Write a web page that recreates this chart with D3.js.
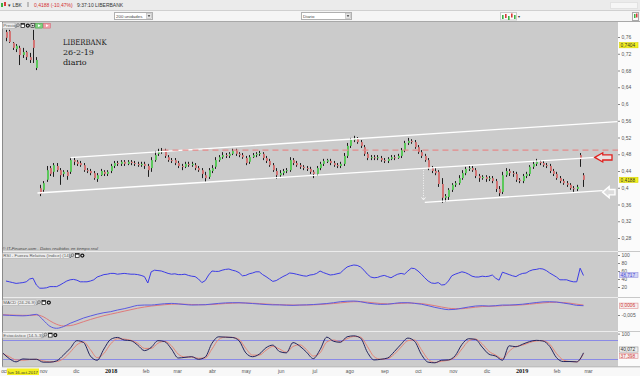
<!DOCTYPE html>
<html>
<head>
<meta charset="utf-8">
<script src="https://d3js.org/d3.v7.min.js"></script>
<style>
  body { margin: 0; background: #fff; overflow: hidden; }
  #chart { position: relative; width: 640px; height: 376px; overflow: hidden; }
  svg { display: block; font-family: 'Liberation Sans', Arial, sans-serif; }
</style>
</head>
<body>
<div id="chart"></div>
<script>
// ---------- data ----------
// one candle every 3 days starting here
const candleStart = new Date(2017, 8, 30);
const open = [.772,.774,.746,.731,.734,.717,.724,.712,.753,.686,
  .399,.395,.419,.447,.438,.452,.442,.433,.438,.438,
  .466,.462,.459,.454,.442,.440,.435,.421,.430,.438,
  .433,.440,.452,.459,.457,.462,.457,.462,.459,.457,
  .454,.457,.452,.447,.466,.481,.485,.488,.473,.466,
  .466,.459,.452,.450,.457,.454,.454,.447,.442,.430,
  .426,.440,.450,.466,.473,.478,.476,.481,.488,.481,
  .478,.471,.462,.473,.478,.481,.481,.471,.464,.454,
  .440,.430,.435,.440,.442,.466,.459,.454,.450,.447,
  .445,.438,.433,.447,.457,.462,.464,.459,.454,.452,
  .457,.476,.500,.514,.516,.509,.497,.481,.471,.473,
  .471,.471,.466,.464,.469,.473,.471,.476,.490,.507,
  .512,.509,.497,.485,.476,.466,.447,.440,.438,.409,
  .376,.378,.395,.407,.411,.423,.435,.445,.447,.442,
  .428,.423,.426,.421,.423,.416,.397,.390,.430,.440,
  .435,.433,.419,.416,.428,.433,.450,.457,.462,.459,
  .454,.452,.440,.433,.423,.416,.411,.407,.399,.397,
  .478,.430];
const high = [.777,.777,.748,.743,.739,.734,.727,.722,.777,.712,
  .407,.416,.452,.452,.459,.459,.447,.442,.442,.473,
  .473,.466,.464,.459,.447,.445,.440,.435,.445,.442,
  .442,.457,.464,.464,.466,.466,.466,.466,.464,.462,
  .462,.462,.457,.473,.488,.493,.495,.493,.478,.471,
  .471,.464,.457,.462,.462,.462,.459,.452,.447,.438,
  .447,.454,.473,.478,.485,.483,.485,.493,.493,.485,
  .483,.476,.478,.483,.485,.488,.485,.476,.469,.459,
  .447,.442,.445,.447,.473,.471,.464,.459,.454,.452,
  .450,.442,.452,.462,.469,.469,.469,.464,.459,.462,
  .483,.507,.519,.524,.521,.514,.502,.485,.478,.478,
  .478,.476,.471,.473,.478,.478,.481,.495,.512,.519,
  .516,.514,.502,.490,.481,.471,.452,.447,.442,.423,
  .385,.399,.411,.416,.430,.442,.450,.452,.452,.447,
  .433,.430,.430,.428,.428,.421,.404,.438,.447,.445,
  .440,.438,.423,.433,.438,.454,.464,.469,.466,.464,
  .459,.457,.445,.438,.428,.421,.416,.411,.404,.407,
  .483,.435];
const low = [.750,.746,.729,.724,.693,.710,.705,.698,.698,.681,
  .380,.390,.414,.428,.426,.438,.407,.426,.419,.433,
  .454,.452,.450,.438,.435,.430,.419,.414,.428,.428,
  .428,.435,.447,.452,.452,.452,.454,.454,.452,.450,
  .450,.445,.426,.438,.462,.476,.481,.471,.462,.459,
  .454,.447,.442,.447,.450,.450,.442,.438,.423,.414,
  .421,.435,.445,.462,.469,.471,.471,.478,.476,.473,
  .469,.454,.457,.471,.473,.476,.466,.459,.450,.438,
  .421,.426,.430,.435,.438,.454,.450,.445,.442,.440,
  .433,.423,.428,.442,.452,.459,.454,.450,.447,.447,
  .452,.471,.495,.509,.505,.495,.476,.466,.466,.466,
  .466,.462,.459,.459,.466,.466,.469,.471,.485,.502,
  .505,.493,.481,.471,.462,.442,.435,.430,.402,.364,
  .366,.371,.390,.402,.407,.419,.430,.440,.438,.423,
  .414,.419,.414,.416,.411,.390,.380,.385,.426,.428,
  .426,.414,.411,.411,.423,.428,.445,.452,.454,.450,
  .447,.435,.428,.419,.411,.407,.402,.395,.390,.392,
  .450,.402];
const close = [.758,.748,.734,.739,.717,.724,.712,.705,.734,.705,
  .385,.411,.442,.433,.454,.442,.430,.438,.428,.466,
  .462,.457,.454,.442,.440,.435,.423,.430,.440,.433,
  .438,.452,.459,.457,.462,.457,.462,.459,.457,.454,
  .457,.452,.442,.466,.478,.485,.488,.476,.466,.464,
  .459,.452,.450,.457,.454,.457,.447,.442,.433,.423,
  .442,.447,.466,.473,.478,.476,.481,.488,.481,.478,
  .473,.459,.473,.478,.481,.483,.471,.464,.454,.442,
  .430,.435,.440,.442,.466,.459,.454,.450,.447,.445,
  .438,.433,.447,.457,.464,.466,.459,.454,.452,.457,
  .476,.500,.514,.516,.509,.500,.481,.471,.473,.471,
  .473,.466,.464,.469,.473,.471,.476,.490,.507,.512,
  .509,.497,.485,.476,.466,.447,.440,.435,.409,.376,
  .380,.395,.407,.411,.423,.435,.445,.447,.442,.428,
  .423,.426,.421,.423,.416,.397,.387,.430,.440,.435,
  .433,.419,.416,.428,.433,.450,.457,.462,.459,.454,
  .452,.440,.433,.423,.416,.411,.407,.399,.397,.402,
  .468,.4188];
// RSI, same dates as the candles
const rsi = [35,33,31,29,30,31,33,40,42,25,
  17,17,18,21,21,21,25,30,35,38,
  39,37,33,33,33,35,38,45,48,51,
  52,54,54,52,53,54,53,52,52,51,
  49,46,30,58,62,61,60,57,54,52,
  53,51,51,52,49,47,46,40,31,36,
  50,60,59,59,62,64,65,62,60,56,
  48,49,53,55,58,58,51,46,40,34,
  36,41,46,50,55,54,52,50,48,47,
  50,51,54,60,56,53,50,51,53,55,
  63,70,73,75,74,70,62,52,45,43,
  44,47,49,46,43,48,52,54,52,60,
  67,66,60,52,43,35,30,29,31,25,
  26,35,48,52,55,58,56,52,47,45,
  45,47,46,47,50,42,37,57,54,51,
  48,46,51,54,55,60,63,64,66,65,
  61,55,50,45,38,38,38,35,33,33,
  67,48.717];
// MACD and stochastic: one point every 6 days starting here
const indStart = new Date(2017, 8, 27);
const macd = [-0.0050,-0.0052,-0.0054,-0.0055,-0.0052,-0.0046,-0.0080,-0.0118,-0.0130,-0.0120,
  -0.0100,-0.0084,-0.0068,-0.0056,-0.0045,-0.0036,-0.0030,-0.0020,-0.0012,-0.0002,
  0.0008,0.0010,0.0010,0.0014,0.0018,0.0020,0.0017,0.0013,0.0010,0.0011,
  0.0012,0.0016,0.0020,0.0023,0.0024,0.0024,0.0022,0.0019,0.0016,0.0013,
  0.0011,0.0011,0.0009,0.0008,0.0010,0.0011,0.0013,0.0016,0.0019,0.0024,
  0.0030,0.0033,0.0034,0.0030,0.0022,0.0017,0.0014,0.0015,0.0020,0.0024,
  0.0024,0.0020,0.0015,0.0006,-0.0004,-0.0012,-0.0018,-0.0016,-0.0009,-0.0002,
  0.0004,0.0006,0.0004,0.0006,0.0010,0.0010,0.0012,0.0015,0.0020,0.0025,
  0.0029,0.0030,0.0028,0.0022,0.0016,0.0008,0.0006];
const signal = [-0.0048,-0.0050,-0.0051,-0.0052,-0.0052,-0.0050,-0.0060,-0.0085,-0.0106,-0.0116,
  -0.0114,-0.0104,-0.0090,-0.0077,-0.0065,-0.0054,-0.0045,-0.0036,-0.0027,-0.0018,
  -0.0009,-0.0002,0.0004,0.0008,0.0012,0.0015,0.0016,0.0015,0.0013,0.0012,
  0.0012,0.0013,0.0016,0.0019,0.0021,0.0023,0.0022,0.0021,0.0019,0.0016,
  0.0014,0.0012,0.0011,0.0010,0.0010,0.0010,0.0011,0.0013,0.0016,0.0019,
  0.0023,0.0027,0.0030,0.0030,0.0027,0.0023,0.0019,0.0017,0.0018,0.0020,
  0.0022,0.0021,0.0019,0.0013,0.0006,-0.0002,-0.0009,-0.0012,-0.0012,-0.0008,
  -0.0003,0.0001,0.0002,0.0004,0.0006,0.0008,0.0009,0.0011,0.0015,0.0019,
  0.0023,0.0026,0.0027,0.0025,0.0021,0.0015,0.0010];
const stochK = [40,22,12,21,20,20,11,11,15,33,
  54,78,72,30,17,52,82,88,80,78,
  64,47,57,78,75,52,24,26,28,20,
  27,70,90,89,88,78,40,28,36,56,
  64,44,40,72,61,42,22,50,89,76,
  73,90,93,86,42,18,20,24,44,67,
  86,76,35,11,9,17,18,31,66,84,
  82,58,36,30,17,62,59,67,75,79,
  77,60,25,13,13,12,40.072];
const stochD = [38,28,18,17,19,20,15,12,13,22,
  42,65,74,50,25,38,68,84,83,79,
  70,54,54,70,76,62,36,27,27,23,
  24,52,82,89,88,82,54,33,33,48,
  60,52,42,60,65,50,30,40,74,80,
  75,84,91,89,60,28,20,22,36,58,
  78,80,50,20,10,14,17,26,52,77,
  83,68,45,33,22,45,60,64,72,77,
  78,67,38,18,13,12,37.398];

const priceTicks = [0.76, 0.72, 0.68, 0.64, 0.6, 0.56, 0.52, 0.48, 0.44, 0.4, 0.36, 0.32, 0.28];
const rsiTicks = [100, 80, 60, 40, 20];
const monthLabels = ["oct", "nov", "dic", "2018", "feb", "mar", "abr", "may", "jun", "jul",
                     "ago", "sep", "oct", "nov", "dic", "2019", "feb", "mar"];
const captionLines = ["LIBERBANK", "26-2-19", "diario"];

// drawn trend lines: [date, price]
const upperLine = [[new Date(2017, 10, 26), 0.472], [new Date(2019, 2, 27), 0.558]];
const lowerLine = [[new Date(2017, 9, 28), 0.3875], [new Date(2019, 2, 8), 0.4727]];
const newLowerLine = [[new Date(2018, 9, 7), 0.3652], [new Date(2019, 2, 14), 0.393]];
const resistance = {from: new Date(2018, 1, 16), price: 0.49};
const shiftArrow = {date: new Date(2018, 9, 5), from: 0.442, to: 0.371};
const redArrow = {date: new Date(2019, 2, 7), price: 0.4725};
const whiteArrow = {date: new Date(2019, 2, 14), price: 0.3895};
const cursor = {date: new Date(2017, 9, 16), price: 0.7404};

// ---------- layout ----------
const W = 640, H = 376;
const plotL = 3, plotR = 618;
const fmt = v => String(v).replace(".", ",");

const x = d3.scaleTime()
  .domain([new Date(2017, 10, 1), new Date(2019, 2, 1)])
  .range([42, 588]);
const yP = d3.scaleLinear().domain([0.28, 0.76]).range([238, 37]);
const yR = d3.scaleLinear().domain([0, 100]).range([295, 255]);
const yM = d3.scaleLinear().domain([-0.005, 0.0006]).range([315, 305.7]);
const yS = d3.scaleLinear().domain([0, 100]).range([365.7, 333.6]);

const svg = d3.select("#chart").append("svg")
  .attr("width", W).attr("height", H);

const defs = svg.append("defs");
function clip(id, y0, y1) {
  defs.append("clipPath").attr("id", id).append("rect")
    .attr("x", plotL).attr("y", y0).attr("width", plotR - plotL).attr("height", y1 - y0);
  return `url(#${id})`;
}
const clipP = clip("cp", 22, 251);
const clipR = clip("cr", 252, 297);
const clipM = clip("cm", 298, 331);
const clipS = clip("cs", 332, 366.5);

// ---------- window chrome ----------
svg.append("rect").attr("width", W).attr("height", 10).attr("fill", "#ebebeb");
svg.append("rect").attr("y", 10).attr("width", W).attr("height", 12).attr("fill", "#f5f5f5");
svg.append("line").attr("x1", 0).attr("x2", W).attr("y1", 10.5).attr("y2", 10.5).attr("stroke", "#d0d0d0");
svg.append("line").attr("x1", 0).attr("x2", W).attr("y1", 21.5).attr("y2", 21.5).attr("stroke", "#a8a8a8");

svg.append("rect").attr("x", 1).attr("y", 3).attr("width", 2).attr("height", 4).attr("fill", "#3cb043");
svg.append("rect").attr("x", 4).attr("y", 2).attr("width", 2).attr("height", 4).attr("fill", "#d83a3a");
const topBar = svg.append("g").attr("font-size", 5).attr("fill", "#333");
topBar.append("text").attr("x", 8).attr("y", 7).text("▾ LBK");
topBar.append("rect").attr("x", 27).attr("y", 2).attr("width", 2).attr("height", 5).attr("fill", "#bbb");
topBar.append("text").attr("x", 34).attr("y", 7).attr("fill", "#d43030").text("0,4188 (-10,47%)");
topBar.append("text").attr("x", 77).attr("y", 7).text("9:37:10 LIBERBANK");
svg.append("rect").attr("x", 610.5).attr("y", 2.5).attr("width", 27).attr("height", 6)
  .attr("fill", "#f6f6f6").attr("stroke", "#e2e2e2");

function dropdown(x0, x1, label) {
  svg.append("rect").attr("x", x0 + 0.5).attr("y", 12.5).attr("width", x1 - x0).attr("height", 7)
    .attr("fill", "#fff").attr("stroke", "#b0b0b0");
  svg.append("text").attr("x", x0 + 2).attr("y", 17.8).attr("font-size", 4.4).attr("fill", "#444").text(label);
  svg.append("rect").attr("x", x1 - 5.5).attr("y", 13.5).attr("width", 5).attr("height", 5)
    .attr("fill", "#e6e6e6").attr("stroke", "#b8b8b8").attr("stroke-width", 0.6);
  svg.append("path").attr("d", `M${x1 - 4.3},15.3h2.6l-1.3,1.6z`).attr("fill", "#333");
}
dropdown(114, 152, "200 unidades");
dropdown(301, 351, "Diario");
// chart type icon
svg.append("rect").attr("x", 500.5).attr("y", 12.5).attr("width", 16).attr("height", 7.5).attr("fill", "#fafafa").attr("stroke", "#ccc");
[[502, 15, "#3cb043"], [505, 14, "#d83a3a"], [508, 16, "#3cb043"], [511, 13.5, "#d83a3a"], [514, 15, "#3cb043"]]
  .forEach(([a, b, c]) => svg.append("rect").attr("x", a).attr("y", b).attr("width", 1.6).attr("height", 4).attr("fill", c));
svg.append("text").attr("x", 518).attr("y", 18).attr("font-size", 4).attr("fill", "#333").text("▾");
svg.append("rect").attr("x", 632.5).attr("y", 12.5).attr("width", 6).attr("height", 8).attr("fill", "#fafafa").attr("stroke", "#aaa");
svg.append("rect").attr("x", 634).attr("y", 14).attr("width", 1.5).attr("height", 4).attr("fill", "#3cb043");
svg.append("rect").attr("x", 636).attr("y", 13.5).attr("width", 1.5).attr("height", 4).attr("fill", "#d83a3a");

// ---------- panels ----------
svg.append("rect").attr("x", plotL).attr("y", 22).attr("width", plotR - plotL).attr("height", 344.5).attr("fill", "#cbcbcb");
svg.append("rect").attr("x", plotR).attr("y", 22).attr("width", W - plotR).attr("height", 345).attr("fill", "#fbfbfb");
svg.append("line").attr("x1", 2.5).attr("x2", 2.5).attr("y1", 22).attr("y2", 367).attr("stroke", "#8a8a8a");
[251.5, 297.5, 331.5].forEach(yy => {
  svg.append("line").attr("x1", plotL).attr("x2", plotR).attr("y1", yy).attr("y2", yy).attr("stroke", "#ececec");
  svg.append("line").attr("x1", plotR).attr("x2", W).attr("y1", yy).attr("y2", yy).attr("stroke", "#c8c8c8");
});
// x axis band
svg.append("rect").attr("x", 0).attr("y", 367).attr("width", W).attr("height", 9).attr("fill", "#f8f8f8");
svg.append("line").attr("x1", 2).attr("x2", W).attr("y1", 366.8).attr("y2", 366.8).attr("stroke", "#b0b0b0");

// ---------- price panel ----------
const candles = open.map((o, i) => ({
  date: d3.timeDay.offset(candleStart, 3 * i), o, h: high[i], l: low[i], c: close[i]
}));
const gC = svg.append("g").attr("clip-path", clipP);
gC.selectAll("line.wick").data(candles).join("line")
  .attr("class", "wick")
  .attr("x1", d => Math.round(x(d.date)) + 0.5).attr("x2", d => Math.round(x(d.date)) + 0.5)
  .attr("y1", d => yP(d.h)).attr("y2", d => yP(d.l))
  .attr("stroke", "#1e1e1e").attr("stroke-width", 1);
gC.selectAll("rect.body").data(candles).join("rect")
  .attr("class", "body")
  .attr("x", d => Math.round(x(d.date)))
  .attr("width", 2)
  .attr("y", d => yP(Math.max(d.o, d.c)))
  .attr("height", d => Math.max(1, Math.abs(yP(d.o) - yP(d.c))))
  .attr("fill", d => d.c >= d.o ? "#5bc85b" : "#d27474");

// trend lines
const seg = d3.line().x(d => x(d[0])).y(d => yP(d[1]));
[upperLine, lowerLine, newLowerLine].forEach(l =>
  gC.append("path").attr("d", seg(l)).attr("stroke", "#fff").attr("stroke-width", 1.3).attr("fill", "none"));
gC.append("line")
  .attr("x1", x(resistance.from)).attr("x2", plotR)
  .attr("y1", yP(resistance.price)).attr("y2", yP(resistance.price))
  .attr("stroke", "#e58a8a").attr("stroke-width", 1.2).attr("stroke-dasharray", "6,4");
// channel shift marker
{
  const sx = Math.round(x(shiftArrow.date)) + 0.5;
  gC.append("line").attr("x1", sx).attr("x2", sx)
    .attr("y1", yP(shiftArrow.from)).attr("y2", yP(shiftArrow.to))
    .attr("stroke", "#fff").attr("stroke-width", 0.8).attr("stroke-dasharray", "1,1.5");
  const ty = yP(shiftArrow.to);
  gC.append("path").attr("d", `M${sx - 2},${ty - 2.5}L${sx},${ty}L${sx + 2},${ty - 2.5}`)
    .attr("stroke", "#fff").attr("stroke-width", 0.8).attr("fill", "none");
}
// arrows
function arrow(tip, headLen, headHalf, shaftHalf, tail, stroke, fill, sw) {
  const [tx, ty] = tip;
  const pts = [[tx, ty], [tx + headLen, ty - headHalf], [tx + headLen, ty - shaftHalf], [tail, ty - shaftHalf],
               [tail, ty + shaftHalf], [tx + headLen, ty + shaftHalf], [tx + headLen, ty + headHalf]];
  svg.append("path").attr("d", "M" + pts.map(p => p.join(",")).join("L") + "Z")
    .attr("fill", fill).attr("stroke", stroke).attr("stroke-width", sw).attr("stroke-linejoin", "miter");
}
arrow([x(redArrow.date), yP(redArrow.price)], 8, 4.6, 2.6, 612, "#e0201e", "#e9e2e2", 1.3);
arrow([x(whiteArrow.date), yP(whiteArrow.price)], 6.5, 5.6, 2.7, 615, "#ffffff", "#dcdcdc", 1.4);

// chart caption, in its own small viewport so nothing of it can spill elsewhere
const capBox = svg.append("svg")
  .attr("x", 60).attr("y", 34).attr("width", 52).attr("height", 34)
  .attr("overflow", "hidden");
const caption = capBox.append("g").attr("font-family", "'DejaVu Serif', serif").attr("font-size", 8).attr("fill", "#1a1a1a");
captionLines.forEach((t, i) => {
  caption.append("text")
    .attr("transform", `translate(3,${10.5 + i * 10.4})` + (i === 0 ? " scale(0.86,1)" : ""))
    .text(t);
});

svg.append("text").attr("x", 2.5).attr("y", 249.8).attr("font-size", 4.3).attr("font-style", "italic")
  .attr("fill", "#444").text("© IT-Finance.com . Datos recibidos en tiempo real");

// ---------- panel labels ----------
function icon(g, type, x0, y0) {
  if (type === "zoom") {
    g.append("circle").attr("cx", x0 + 2.5).attr("cy", y0 + 1.8).attr("r", 1.4).attr("fill", "none").attr("stroke", "#555").attr("stroke-width", 0.6);
    g.append("line").attr("x1", x0 + 1.5).attr("y1", y0 + 2.9).attr("x2", x0 + 0.2).attr("y2", y0 + 4.6).attr("stroke", "#555").attr("stroke-width", 0.8);
  } else if (type === "win") {
    g.append("rect").attr("x", x0 + 0.5).attr("y", y0 + 0.3).attr("width", 3.6).attr("height", 4).attr("fill", "#fff").attr("stroke", "#111").attr("stroke-width", 0.7);
    g.append("rect").attr("x", x0 + 0.5).attr("y", y0 + 0.3).attr("width", 3.6).attr("height", 1).attr("fill", "#111");
  } else if (type === "gear") {
    g.append("circle").attr("cx", x0 + 2.3).attr("cy", y0 + 2.3).attr("r", 2.1).attr("fill", "#111");
    g.append("circle").attr("cx", x0 + 2.3).attr("cy", y0 + 2.3).attr("r", 0.9).attr("fill", "#ddd");
  } else if (type === "box") {
    g.append("rect").attr("x", x0 + 0.5).attr("y", y0 + 0.3).attr("width", 3.6).attr("height", 4).attr("fill", "#fff").attr("stroke", "#111").attr("stroke-width", 0.6);
    g.append("rect").attr("x", x0 + 1.6).attr("y", y0 + 1.5).attr("width", 1.4).attr("height", 1.6).attr("fill", "#111");
  } else if (type === "go" || type === "stop") {
    g.append("rect").attr("x", x0).attr("y", y0).attr("width", 7).attr("height", 4.8)
      .attr("fill", type === "go" ? "#7fd07f" : "#f0a0a8").attr("stroke", type === "go" ? "#3a9a3a" : "#d06070").attr("stroke-width", 0.5);
    g.append("path").attr("d", `M${x0 + 2.5},${y0 + 1}l2.6,1.4l-2.6,1.4z`).attr("fill", "#fff");
  }
}
function panelLabel(y0, text, w, icons) {
  const g = svg.append("g");
  g.append("rect").attr("x", 2.5).attr("y", y0 + 0.5).attr("width", w).attr("height", 5.5)
    .attr("fill", "#ececec").attr("stroke", "#a8a8a8").attr("stroke-width", 0.5);
  g.append("text").attr("x", 3.3).attr("y", y0 + 4.8).attr("font-size", 4.4).attr("fill", "#555").text(text);
  let cx = 3 + w;
  icons.forEach(t => {
    icon(g, t, cx, y0 + 0.8);
    cx += (t === "go" || t === "stop") ? 8 : 5;
  });
}
panelLabel(22.5, "Precio", 12.5, ["zoom", "win", "gear", "box", "go", "stop"]);
panelLabel(252.5, "RSI - Fuerza Relativa (índice) (14)", 67, ["zoom", "win", "gear"]);
panelLabel(299.5, "MACD (24-26-9)", 33.5, ["zoom", "win", "gear"]);
panelLabel(332, "Estocástico (14-5-3)", 40, ["zoom", "win", "gear"]);

// ---------- RSI ----------
const rsiLine = d3.line().x((d, i) => x(d3.timeDay.offset(candleStart, 3 * i))).y(d => yR(d));
svg.append("path").attr("clip-path", clipR).attr("d", rsiLine(rsi))
  .attr("fill", "none").attr("stroke", "#3c3ce6").attr("stroke-width", 1);

// ---------- MACD ----------
const indX = i => x(d3.timeDay.offset(indStart, 6 * i));
const mLine = d3.line().curve(d3.curveMonotoneX).x((d, i) => indX(i)).y(d => yM(d));
svg.append("path").attr("clip-path", clipM).attr("d", mLine(signal))
  .attr("fill", "none").attr("stroke", "#e07a7a").attr("stroke-width", 1);
svg.append("path").attr("clip-path", clipM).attr("d", mLine(macd))
  .attr("fill", "none").attr("stroke", "#5a5ae0").attr("stroke-width", 1);

// ---------- Stochastic ----------
[20, 80].forEach(v => svg.append("line").attr("x1", plotL).attr("x2", plotR)
  .attr("y1", Math.round(yS(v)) + 0.5).attr("y2", Math.round(yS(v)) + 0.5).attr("stroke", "#8a8ae6").attr("stroke-width", 1));
const sLine = d3.line().curve(d3.curveMonotoneX).x((d, i) => indX(i)).y(d => yS(d));
svg.append("path").attr("clip-path", clipS).attr("d", sLine(stochD))
  .attr("fill", "none").attr("stroke", "#e58474").attr("stroke-width", 1);
svg.append("path").attr("clip-path", clipS).attr("d", sLine(stochK))
  .attr("fill", "none").attr("stroke", "#24245e").attr("stroke-width", 1);

// ---------- right axes ----------
function styleAxis(g) {
  g.select(".domain").remove();
  g.selectAll(".tick line").attr("stroke", "#888");
  g.selectAll(".tick text").attr("font-size", 5).attr("fill", "#555").attr("font-family", "'Liberation Sans', Arial, sans-serif");
}
svg.append("g").attr("transform", `translate(${plotR},0)`)
  .call(d3.axisRight(yP).tickValues(priceTicks).tickSize(2).tickPadding(1.5).tickFormat(fmt))
  .call(styleAxis);
svg.append("g").attr("transform", `translate(${plotR},0)`)
  .call(d3.axisRight(yR).tickValues(rsiTicks).tickSize(2).tickPadding(1.5))
  .call(styleAxis);
svg.append("g").attr("transform", `translate(${plotR},0)`)
  .call(d3.axisRight(yM).tickValues([-0.005]).tickSize(2).tickPadding(1.5).tickFormat(fmt))
  .call(styleAxis);
svg.append("g").attr("transform", `translate(${plotR},0)`)
  .call(d3.axisRight(yS).tickValues([100]).tickSize(2).tickPadding(1.5))
  .call(styleAxis);

function valueBox(yy, text, bg, stroke, color) {
  svg.append("rect").attr("x", plotR + 1.5).attr("y", yy - 2.6).attr("width", 18.5).attr("height", 5.2)
    .attr("fill", bg).attr("stroke", stroke).attr("stroke-width", 0.6);
  svg.append("text").attr("x", plotR + 2.5).attr("y", yy + 1.7).attr("font-size", 4.8).attr("fill", color).text(text);
}
valueBox(yP(cursor.price), fmt(cursor.price), "#f4f020", "#d8d400", "#333");
valueBox(yP(close[close.length - 1]), fmt(close[close.length - 1]), "#f4f020", "#d8d400", "#333");
valueBox(yR(rsi[rsi.length - 1]) - 0.6, fmt(rsi[rsi.length - 1]), "#d4d4f4", "#9a9ae0", "#4a4ad0");
valueBox(yM(macd[macd.length - 1]), fmt(macd[macd.length - 1]), "#f6eeee", "#e09090", "#d03c3c");
// the two stochastic labels are pushed apart so they do not overlap
valueBox(yS(stochK[stochK.length - 1]) - 3.3, fmt(stochK[stochK.length - 1]), "#eeeeee", "#999", "#333");
valueBox(yS(stochD[stochD.length - 1]) + 2.2, fmt(stochD[stochD.length - 1]), "#f6eeee", "#e09090", "#d03c3c");

// ---------- bottom date axis ----------
const months = d3.timeMonth.range(new Date(2017, 9, 1), new Date(2019, 3, 1));
const xa = svg.append("g").attr("transform", "translate(0,369)")
  .call(d3.axisBottom(x).tickValues(months).tickSize(0).tickPadding(0).tickFormat((d, i) => monthLabels[i]));
xa.select(".domain").remove();
xa.selectAll(".tick text").each(function (d, i) {
  const t = d3.select(this);
  if (/^\d{4}$/.test(monthLabels[i])) {
    t.attr("font-size", 6.2).attr("font-weight", "bold").attr("fill", "#111")
      .attr("font-family", "'Liberation Serif', serif").attr("dy", "0.62em");
  } else {
    t.attr("font-size", 4.8).attr("fill", "#555").attr("font-family", "'Liberation Sans', Arial, sans-serif").attr("dy", "0.75em");
  }
});
// first "oct" label sits left of the cursor date box; "nov" nudged clear of it
xa.selectAll(".tick").filter((d, i) => i === 0).select("text").attr("text-anchor", "end").attr("x", 0);
xa.selectAll(".tick").filter((d, i) => i === 1).select("text").attr("x", 1);
// cursor date
{
  const cx = x(cursor.date) - 1;
  svg.append("rect").attr("x", cx - 16).attr("y", 368.5).attr("width", 32).attr("height", 6.5).attr("fill", "#f4f020");
  svg.append("text").attr("x", cx).attr("y", 373.6).attr("text-anchor", "middle").attr("font-size", 4.3)
    .attr("fill", "#333").text("lun 16-oct-2017");
}
</script>
</body>
</html>
